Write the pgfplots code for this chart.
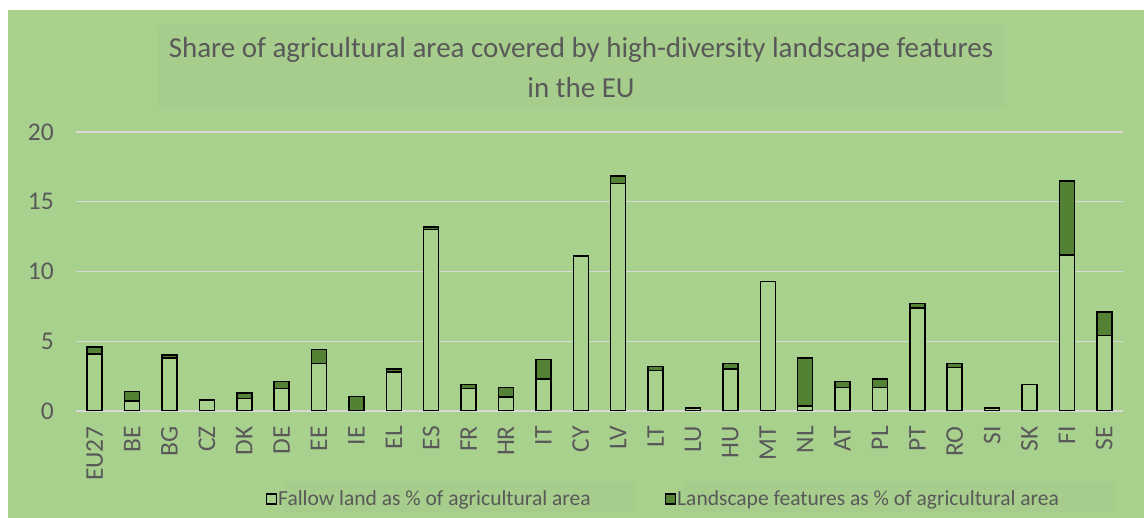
\documentclass[border=0pt]{standalone}
\usepackage{pgfplots}
\pgfplotsset{compat=1.18}
\usepackage{fontspec}
\setmainfont{Carlito}
\definecolor{bg}{HTML}{A9D18E}
\definecolor{boxbg}{HTML}{A6CD8B}
\definecolor{dg}{HTML}{548235}
\definecolor{txt}{HTML}{595959}
\definecolor{gridc}{HTML}{D9D9D9}
\begin{document}
\begin{tikzpicture}[x=1pt,y=1pt]
\fill[white] (0,0) rectangle (1144,518);
\fill[bg] (8,0) rectangle (1144,508);
\fill[boxbg] (158,410) rectangle (1005,493);
\fill[boxbg] (285,6) rectangle (635,36);
\fill[boxbg] (684,6) rectangle (1115,36);
\node[text=txt, font=\fontsize{29}{40}\selectfont, align=center] at (581,450) {Share of agricultural area covered by high-diversity landscape features\\in the EU};
\begin{axis}[
  at={(76pt,107pt)}, anchor=south west,
  scale only axis, width=1047pt, height=279pt,
  ymin=0, ymax=20, xmin=-0.5, xmax=27.5,
  ybar stacked, bar width=15pt,
  axis line style={draw=none},
  ymajorgrids, grid style={color=gridc, line width=1.3pt},
  ytick={0,5,10,15,20},
  xtick={0,...,27},
  xticklabels={EU27,BE,BG,CZ,DK,DE,EE,IE,EL,ES,FR,HR,IT,CY,LV,LT,LU,HU,MT,NL,AT,PL,PT,RO,SI,SK,FI,SE},
  x tick label style={rotate=90, anchor=east, inner sep=0pt},
  xticklabel shift=15pt,
  y tick label style={inner sep=0pt},
  yticklabel shift=22pt,
  tick style={draw=none}, major tick length=0pt,
  ticklabel style={text=txt, font=\fontsize{25.5}{30}\selectfont},
  /pgf/number format/assume math mode=true,
  legend columns=2,
  legend style={at={(0.181,-0.315)}, anchor=west, draw=none, fill=none,
    font=\fontsize{21.5}{26}\selectfont, text=txt, inner sep=0pt,
    /tikz/every even column/.append style={column sep=73pt},
    nodes={inner sep=1pt}},
  legend image code/.code={\draw[#1, line width=1.5pt] (0pt,-5pt) rectangle (10pt,5pt);},
]
\addplot+[draw=black, line width=1.5pt, fill=bg] coordinates {
(0,4.1) (1,0.7) (2,3.8) (3,0.8) (4,0.9) (5,1.6) (6,3.4) (7,0.03) (8,2.8) (9,13.0)
(10,1.6) (11,1.0) (12,2.3) (13,11.1) (14,16.3) (15,2.9) (16,0.2) (17,3.0) (18,9.3) (19,0.35)
(20,1.7) (21,1.7) (22,7.4) (23,3.1) (24,0.2) (25,1.9) (26,11.2) (27,5.4)};
\addlegendentry{Fallow land as \% of agricultural area}
\addplot+[draw=black, line width=1.5pt, fill=dg] coordinates {
(0,0.5) (1,0.7) (2,0.2) (3,0) (4,0.4) (5,0.5) (6,1.0) (7,1.0) (8,0.2) (9,0.2)
(10,0.3) (11,0.7) (12,1.4) (13,0) (14,0.55) (15,0.3) (16,0) (17,0.4) (18,0) (19,3.45)
(20,0.4) (21,0.6) (22,0.3) (23,0.3) (24,0) (25,0) (26,5.3) (27,1.7)};
\addlegendentry{Landscape features as \% of agricultural area}
\end{axis}
\end{tikzpicture}
\end{document}
